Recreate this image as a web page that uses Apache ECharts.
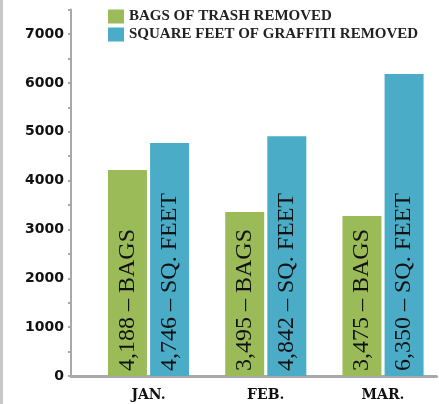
<!DOCTYPE html>
<html>
<head>
<meta charset="utf-8">
<script src="https://cdn.jsdelivr.net/npm/echarts@6/dist/echarts.min.js"></script>
<style>
  html, body { margin: 0; padding: 0; background: #fff; }
  #main { width: 439px; height: 404px; }
</style>
</head>
<body>
<div id="main"></div>
<script>
// months on the x axis
const months = ['JAN.', 'FEB.', 'MAR.'];
// bar heights as drawn in the picture
const trashBags = [4215, 3355, 3275];
const graffitiFeet = [4770, 4910, 6180];
// text printed inside the bars
const trashLabels = ['4,188 – BAGS', '3,495 – BAGS', '3,475 – BAGS'];
const graffitiLabels = ['4,746 – SQ. FEET', '4,842 – SQ. FEET', '6,350 – SQ. FEET'];
const seriesNames = ['BAGS OF TRASH REMOVED', 'SQUARE FEET OF GRAFFITI REMOVED'];

const GREEN = '#9bbb59';
const BLUE = '#4aacc6';
const AXIS = '#a7a9ac';

const chart = echarts.init(document.getElementById('main'));

// months sit at x = 1,2,3 on a value axis so the y axis can stand left of the first band
const toPoints = vals => vals.map((v, i) => [i + 1, v]);

const barLabel = texts => ({
    show: true,
    position: 'insideBottom',
    rotate: 90,
    align: 'left',
    verticalAlign: 'middle',
    distance: 5,
    color: '#111',
    fontFamily: 'Liberation Serif',
    fontSize: 24,
    formatter: p => texts[p.dataIndex]
});

chart.setOption({
    animation: false,
    backgroundColor: '#fff',
    graphic: [{
        type: 'rect',
        left: 0, top: 0,
        shape: { width: 3, height: 404 },
        style: { fill: '#c8c8c8' }
    }],
    legend: {
        orient: 'vertical',
        left: 108,
        top: 9,
        itemWidth: 16,
        itemHeight: 14,
        itemGap: 3,
        icon: 'rect',
        padding: 0,
        textStyle: {
            fontFamily: 'Liberation Serif',
            fontSize: 15,
            fontWeight: 'bold',
            color: '#222'
        },
        data: seriesNames
    },
    grid: { left: 71, right: 2.5, top: 9.6, bottom: 28 },
    xAxis: {
        type: 'value',
        min: 0.339,
        max: 3.456,
        offset: 2,
        splitLine: { show: false },
        axisTick: { show: false },
        axisLine: { show: true, lineStyle: { color: AXIS, width: 3 } },
        axisLabel: {
            customValues: [1, 2, 3],
            formatter: v => months[Math.round(v) - 1] || '',
            margin: 10,
            color: '#111',
            fontFamily: 'DejaVu Serif',
            fontWeight: 'bold',
            fontSize: 14
        }
    },
    yAxis: {
        type: 'value',
        min: 0,
        max: 7500,
        interval: 500,
        splitLine: { show: false },
        axisLine: { show: true, lineStyle: { color: AXIS, width: 2 } },
        axisTick: { show: true, length: 3, lineStyle: { color: AXIS, width: 2 } },
        axisLabel: {
            formatter: v => (v % 1000 === 0 && v <= 7000) ? String(v) : '',
            margin: 7,
            color: '#111',
            fontFamily: 'DejaVu Sans',
            fontWeight: 'bold',
            fontSize: 14
        }
    },
    series: [{
        name: seriesNames[0],
        type: 'bar',
        barWidth: 39,
        barGap: '8%',
        itemStyle: { color: GREEN },
        label: barLabel(trashLabels),
        data: toPoints(trashBags)
    }, {
        name: seriesNames[1],
        type: 'bar',
        barWidth: 39,
        barGap: '8%',
        itemStyle: { color: BLUE },
        label: barLabel(graffitiLabels),
        data: toPoints(graffitiFeet)
    }]
});
</script>
</body>
</html>
